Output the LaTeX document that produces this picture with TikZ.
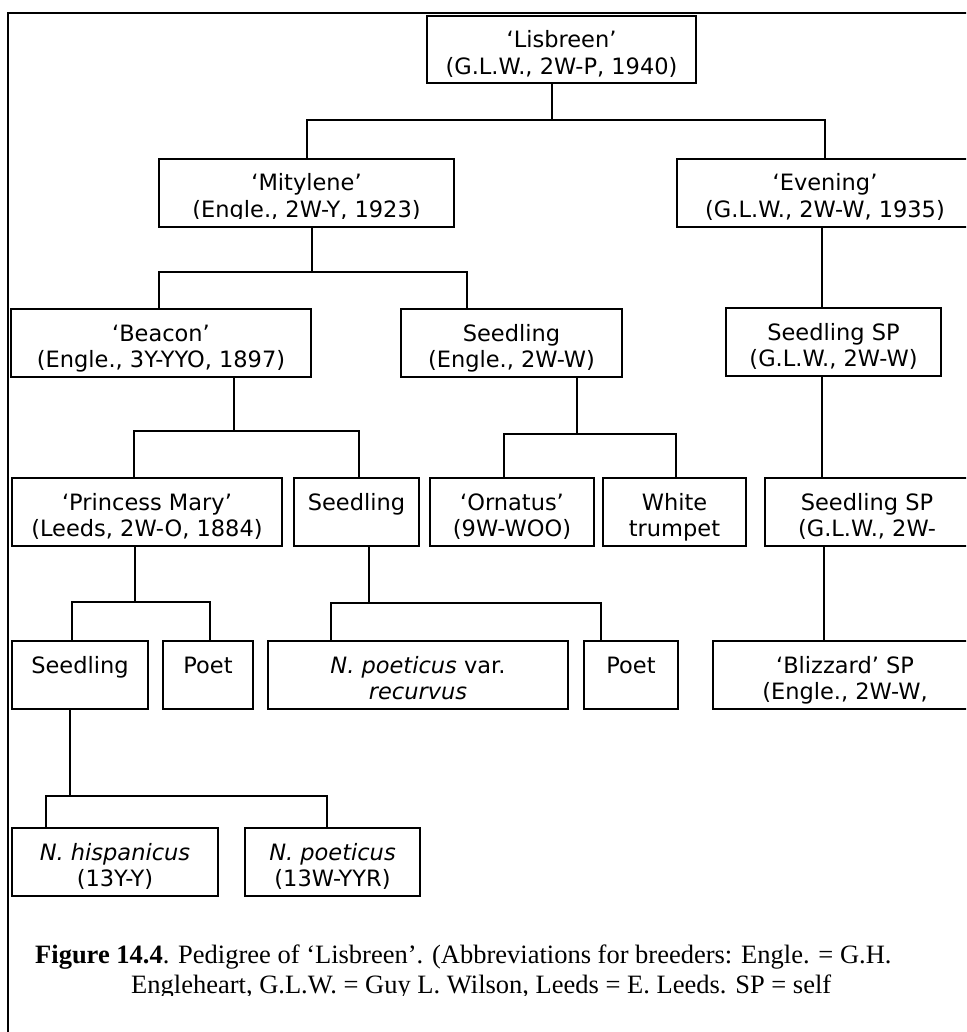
\documentclass[tikz,border=0pt]{standalone}
\usepackage{fontspec}
\newfontfamily\boxfont{DejaVu Sans}
\newfontfamily\capfont{Liberation Serif}
% two text lines set on fixed baselines inside a pedigree box
\newcommand\pedlines[3]{%
  \node[txt] (#1-a) at ([yshift=-32pt]#1.north) {#2};
  \node[txt] (#1-b) at ([yshift=-58.5pt]#1.north) {#3};}
\newcommand\pedline[2]{%
  \node[txt] (#1-a) at ([yshift=-32pt]#1.north) {#2};}
\begin{document}
\begin{tikzpicture}[x=1pt,y=-1pt,
  box/.style={draw, line width=2pt, inner sep=0pt, outer sep=0pt, minimum height=68pt},
  conn/.style={line width=1.7pt},
  frame/.style={line width=1.8pt},
  txt/.style={anchor=base, inner sep=0pt, font=\boxfont\fontsize{22.5pt}{26pt}\selectfont},
  captext/.style={anchor=base west, inner sep=0pt, font=\capfont\fontsize{26.5pt}{30pt}\selectfont}]
\useasboundingbox (0,0) rectangle (966,1032);
\clip (0,0) rectangle (966,1032);

% outer frame (open to the right and bottom)
\draw[frame] (8,1045) -- (8,13) -- (990,13);

% pedigree boxes
\node[box, minimum width=269pt, minimum height=67pt] (lis) at (561.5,49.5) {};
\node[box, minimum width=295pt] (mit) at (306.5,193) {};
\node[box, minimum width=296pt] (evn) at (825,193) {};
\node[box, minimum width=300pt] (bea) at (161,343) {};
\node[box, minimum width=221pt] (sde) at (511.5,343) {};
\node[box, minimum width=215pt] (sp1) at (833.5,342) {};
\node[box, minimum width=270pt] (pm)  at (147,512) {};
\node[box, minimum width=125pt] (sd1) at (356.5,512) {};
\node[box, minimum width=164pt] (orn) at (512,512) {};
\node[box, minimum width=143pt] (wt)  at (674.5,512) {};
\node[box, minimum width=204pt] (sp2) at (867,512) {};
\node[box, minimum width=136pt] (sd2) at (80,675) {};
\node[box, minimum width=90pt]  (po1) at (208,675) {};
\node[box, minimum width=300pt] (npv) at (418,675) {};
\node[box, minimum width=94pt]  (po2) at (631,675) {};
\node[box, minimum width=264pt] (bli) at (845,675) {};
\node[box, minimum width=206pt] (nh)  at (115,862) {};
\node[box, minimum width=175pt] (np)  at (332.5,862) {};

% box texts
\pedlines{lis}{‘Lisbreen’}{(G.L.W., 2W-P, 1940)}
\pedline{mit}{‘Mitylene’}
\begin{scope}
  \clip (0,0) rectangle (966,218.5);
  \node[txt] (mit-b) at ([yshift=-58.5pt]mit.north) {(Engle., 2W-Y, 1923)};
\end{scope}
\pedlines{evn}{‘Evening’}{(G.L.W., 2W-W, 1935)}
\pedlines{bea}{‘Beacon’}{(Engle., 3Y-YYO, 1897)}
\pedlines{sde}{Seedling}{(Engle., 2W-W)}
\pedlines{sp1}{Seedling SP}{(G.L.W., 2W-W)}
\pedlines{pm}{‘Princess Mary’}{(Leeds, 2W-O, 1884)}
\pedline{sd1}{Seedling}
\pedlines{orn}{‘Ornatus’}{(9W-WOO)}
\pedlines{wt}{White}{trumpet}
\pedlines{sp2}{Seedling SP}{(G.L.W., 2W-}
\pedline{sd2}{Seedling}
\pedline{po1}{Poet}
\pedlines{npv}{\itshape N. poeticus\upshape\ var.}{\itshape recurvus}
\pedline{po2}{Poet}
\pedlines{bli}{‘Blizzard’ SP}{(Engle., 2W-W,}
\pedlines{nh}{\itshape N. hispanicus}{(13Y-Y)}
\pedlines{np}{\itshape N. poeticus}{(13W-YYR)}

% junctions of the connectors
\coordinate (f1p) at (552,120); \coordinate (f1l) at (307,120); \coordinate (f1r) at (825,120);
\coordinate (f2p) at (312,272); \coordinate (f2l) at (159,272); \coordinate (f2r) at (467,272);
\coordinate (f3p) at (234,431); \coordinate (f3l) at (134,431); \coordinate (f3r) at (359,431);
\coordinate (f4p) at (577,434); \coordinate (f4l) at (504,434); \coordinate (f4r) at (676,434);
\coordinate (f5p) at (135,602); \coordinate (f5l) at (72,602);  \coordinate (f5r) at (210,602);
\coordinate (f6p) at (369,603); \coordinate (f6l) at (331,603); \coordinate (f6r) at (601,603);
\coordinate (f7p) at (70,796);  \coordinate (f7l) at (46,796);  \coordinate (f7r) at (327,796);
\coordinate (s1) at (822,0); \coordinate (s2) at (822,0); \coordinate (s3) at (824,0);

% connectors
\draw[conn] (lis.south -| f1p) -- (f1p);
\draw[conn] (mit.north -| f1l) -- (f1l) -- (f1r) -- (evn.north -| f1r);
\draw[conn] (mit.south -| f2p) -- (f2p);
\draw[conn] (bea.north -| f2l) -- (f2l) -- (f2r) -- (sde.north -| f2r);
\draw[conn] (bea.south -| f3p) -- (f3p);
\draw[conn] (pm.north -| f3l) -- (f3l) -- (f3r) -- (sd1.north -| f3r);
\draw[conn] (sde.south -| f4p) -- (f4p);
\draw[conn] (orn.north -| f4l) -- (f4l) -- (f4r) -- (wt.north -| f4r);
\draw[conn] (pm.south -| f5p) -- (f5p);
\draw[conn] (sd2.north -| f5l) -- (f5l) -- (f5r) -- (po1.north -| f5r);
\draw[conn] (sd1.south -| f6p) -- (f6p);
\draw[conn] (npv.north -| f6l) -- (f6l) -- (f6r) -- (po2.north -| f6r);
\draw[conn] (sd2.south -| f7p) -- (f7p);
\draw[conn] (nh.north -| f7l) -- (f7l) -- (f7r) -- (np.north -| f7r);
\draw[conn] (evn.south -| s1) -- (sp1.north -| s1);
\draw[conn] (sp1.south -| s2) -- (sp2.north -| s2);
\draw[conn] (sp2.south -| s3) -- (bli.north -| s3);

% caption
\node[captext] (cap1) at (35,963) {\textbf{Figure 14.4}. Pedigree of ‘Lisbreen’. (Abbreviations for breeders: Engle. = G.H.};
\begin{scope}
  \clip (0,0) rectangle (966,995);
  \node[captext] (cap2) at (131,993) {Engleheart, G.L.W. = Guy L. Wilson, Leeds = E. Leeds. SP = self};
\end{scope}
\end{tikzpicture}
\end{document}
